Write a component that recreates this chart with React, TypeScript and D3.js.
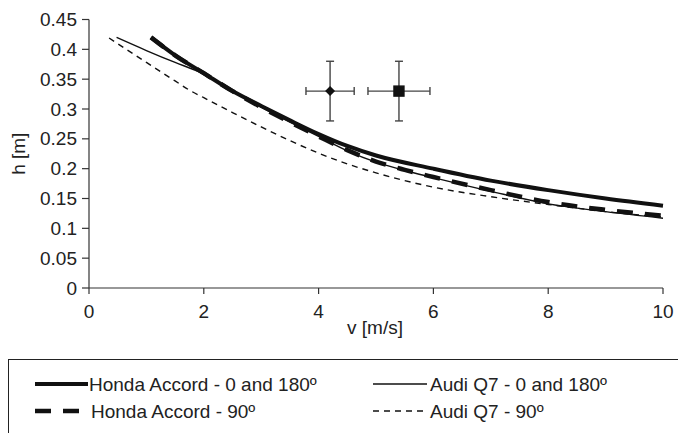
import React from "react";
import * as d3 from "d3";

const hondaSolidV = [1.08, 1.5, 2.0, 2.5, 3.0, 3.5, 4.0, 4.5, 5.0, 6.0, 7.0, 8.0, 9.0, 10.0];
const hondaSolidH = [0.42, 0.39, 0.36, 0.33, 0.305, 0.281, 0.258, 0.238, 0.222, 0.2, 0.18, 0.164, 0.15, 0.138];

const hondaDashV = [1.08, 1.5, 2.0, 2.5, 3.0, 3.5, 4.0, 4.5, 5.0, 5.5, 6.0, 7.0, 8.0, 9.0, 10.0];
const hondaDashH = [0.42, 0.39, 0.36, 0.33, 0.303, 0.278, 0.254, 0.231, 0.212, 0.198, 0.186, 0.164, 0.144, 0.131, 0.121];

const audiSolidV = [0.48, 1.0, 1.5, 1.9, 2.5, 3.0, 3.5, 4.0, 4.5, 5.0, 5.5, 6.0, 7.0, 8.0, 9.0, 10.0];
const audiSolidH = [0.42, 0.398, 0.378, 0.363, 0.33, 0.303, 0.278, 0.254, 0.23, 0.211, 0.197, 0.185, 0.162, 0.141, 0.128, 0.117];

const audiDashV = [0.35, 1.0, 1.5, 1.76, 2.0, 2.5, 3.0, 3.5, 4.0, 4.5, 5.0, 6.0, 7.0, 8.0, 9.0, 10.0];
const audiDashH = [0.419, 0.378, 0.347, 0.331, 0.319, 0.294, 0.27, 0.247, 0.226, 0.208, 0.193, 0.169, 0.153, 0.14, 0.128, 0.119];

const pointV = [4.2, 5.4];
const pointH = [0.33, 0.33];
const pointErrV = [0.42, 0.54];
const pointErrH = [0.05, 0.05];
const pointShape = ["diamond", "square"];

const xTicks = [0, 2, 4, 6, 8, 10];
const yTicks = [0, 0.05, 0.1, 0.15, 0.2, 0.25, 0.3, 0.35, 0.4, 0.45];

const legendLabels = [
  "Honda Accord - 0 and 180º",
  "Audi Q7 - 0 and 180º",
  "Honda Accord - 90º",
  "Audi Q7 - 90º",
];

const W = 678;
const H = 433;
const FONT = "'Liberation Sans', Arial, sans-serif";
const TXT = "#222";
const AX = "#333";
const FS = 19;

export default function App() {
  const x = d3.scaleLinear().domain([0, 10]).range([89, 663]);
  const y = d3.scaleLinear().domain([0, 0.45]).range([288, 19.5]);
  const line = d3
    .line<[number, number]>()
    .x((d) => x(d[0]))
    .y((d) => y(d[1]))
    .curve(d3.curveMonotoneX);
  const zip = (a: number[], b: number[]) => a.map((v, i) => [v, b[i]] as [number, number]);

  const styles = [
    { d: zip(hondaSolidV, hondaSolidH), w: 4, dash: "" },
    { d: zip(audiSolidV, audiSolidH), w: 1.4, dash: "" },
    { d: zip(hondaDashV, hondaDashH), w: 4.5, dash: "16,12" },
    { d: zip(audiDashV, audiDashH), w: 1.4, dash: "6,5" },
  ];
  const series = [styles[3], styles[1], styles[2], styles[0]];

  const legendPos = [
    { lx: 35, lx2: 88, tx: 89, ty: 384 },
    { lx: 373, lx2: 427, tx: 430, ty: 384 },
    { lx: 35, lx2: 85, tx: 91, ty: 411 },
    { lx: 373, lx2: 425, tx: 430, ty: 411 },
  ];

  return (
    <svg width={W} height={H} style={{ position: "absolute", left: 0, top: 0 }} fontFamily={FONT}>
      <rect width={W} height={H} fill="#fff" />
      {/* axes */}
      <line x1={x(0)} x2={x(0)} y1={y(0.45)} y2={y(0)} stroke={AX} strokeWidth={1.2} />
      <line x1={x(0)} x2={x(10)} y1={y(0)} y2={y(0)} stroke={AX} strokeWidth={1.2} />
      {yTicks.map((t) => (
        <g key={"y" + t}>
          <line x1={x(0) - 7} x2={x(0)} y1={y(t)} y2={y(t)} stroke={AX} strokeWidth={1.2} />
          <text x={x(0) - 12} y={y(t)} dy="0.35em" textAnchor="end" fontSize={FS} fill={TXT}>
            {String(t)}
          </text>
        </g>
      ))}
      {xTicks.map((t) => (
        <g key={"x" + t}>
          <line x1={x(t)} x2={x(t)} y1={y(0)} y2={y(0) + 6} stroke={AX} strokeWidth={1.2} />
          <text x={x(t)} y={y(0) + 23} dy="0.35em" textAnchor="middle" fontSize={FS} fill={TXT}>
            {String(t)}
          </text>
        </g>
      ))}
      <text x={375} y={327} dy="0.35em" textAnchor="middle" fontSize={FS} fill={TXT}>
        v [m/s]
      </text>
      <text
        transform={`translate(18,${(y(0) + y(0.45)) / 2}) rotate(-90)`}
        dy="0.35em"
        textAnchor="middle"
        fontSize={FS}
        fill={TXT}
      >
        h [m]
      </text>

      {/* curves */}
      {series.map((s, i) => (
        <path
          key={i}
          d={line(s.d) || ""}
          fill="none"
          stroke="#111"
          strokeWidth={s.w}
          strokeDasharray={s.dash || undefined}
          strokeLinejoin="round"
        />
      ))}

      {/* error bar points */}
      {pointV.map((v, i) => {
        const cx = x(v);
        const cy = y(pointH[i]);
        const x1 = x(v - pointErrV[i]);
        const x2 = x(v + pointErrV[i]);
        const y1 = y(pointH[i] + pointErrH[i]);
        const y2 = y(pointH[i] - pointErrH[i]);
        return (
          <g key={"p" + i} stroke="#444" strokeWidth={1.4}>
            <line x1={x1} x2={x2} y1={cy} y2={cy} />
            <line x1={cx} x2={cx} y1={y1} y2={y2} />
            <line x1={x1} x2={x1} y1={cy - 4} y2={cy + 4} />
            <line x1={x2} x2={x2} y1={cy - 4} y2={cy + 4} />
            <line x1={cx - 4} x2={cx + 4} y1={y1} y2={y1} />
            <line x1={cx - 4} x2={cx + 4} y1={y2} y2={y2} />
            {pointShape[i] === "diamond" ? (
              <path
                d={`M${cx},${cy - 4}L${cx + 4},${cy}L${cx},${cy + 4}L${cx - 4},${cy}Z`}
                fill="#111"
                stroke="#111"
              />
            ) : (
              <rect x={cx - 5} y={cy - 5} width={10} height={10} fill="#111" stroke="#111" />
            )}
          </g>
        );
      })}

      {/* legend */}
      <rect x={8.5} y={359.5} width={700} height={100} fill="none" stroke="#222" strokeWidth={1} />
      {styles.map((s, i) => {
        const p = legendPos[i];
        return (
          <g key={"l" + i}>
            <line
              x1={p.lx}
              x2={p.lx2}
              y1={p.ty}
              y2={p.ty}
              stroke="#111"
              strokeWidth={s.w}
              strokeDasharray={s.dash || undefined}
            />
            <text x={p.tx} y={p.ty} dy="0.35em" fontSize={FS} fill={TXT}>
              {legendLabels[i]}
            </text>
          </g>
        );
      })}
    </svg>
  );
}
